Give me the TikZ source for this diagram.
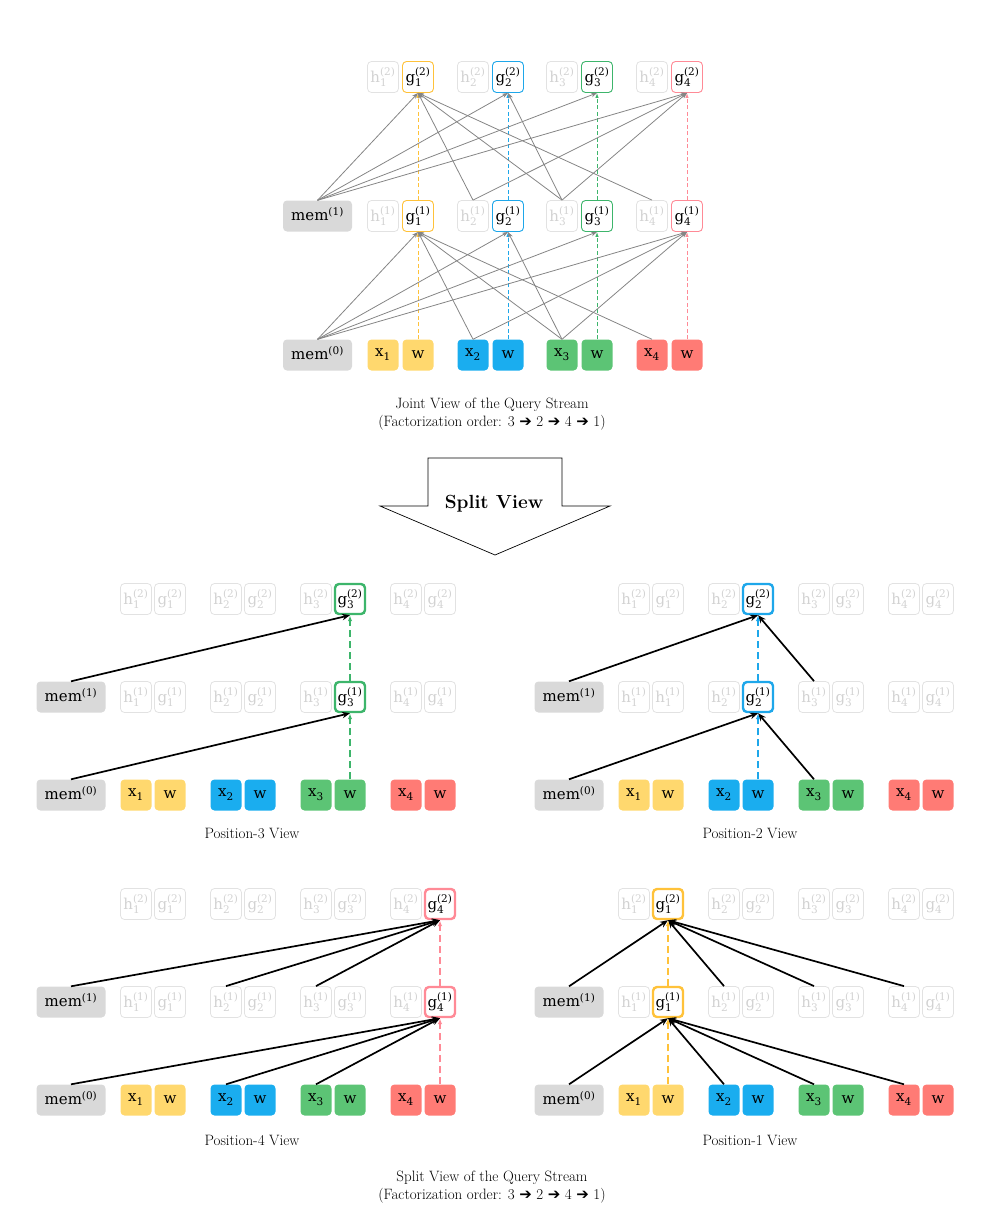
\documentclass[tikz,border=0pt]{standalone}
\usepackage{fix-cm}
\usepackage{fontspec}
\newfontfamily\arrowfont{DejaVu Sans}
\newfontfamily\boxserif{DejaVu Serif}
\usetikzlibrary{arrows.meta}
\definecolor{cyellow}{HTML}{FFD86E}
\definecolor{cblue}{HTML}{1AADEF}
\definecolor{cgreen}{HTML}{5CC475}
\definecolor{cred}{HTML}{FF7B75}
\definecolor{lyellow}{HTML}{FFC23A}
\definecolor{lblue}{HTML}{1EA7EA}
\definecolor{lgreen}{HTML}{3DB56B}
\definecolor{lred}{HTML}{FF8A96}
\definecolor{memgray}{HTML}{D9D9D9}
\definecolor{ghostline}{HTML}{E2E2E2}
\definecolor{ghosttext}{HTML}{D2D2D2}
\definecolor{arrgray}{HTML}{858585}

% box label: letter, subscript, superscript
\newcommand{\lbl}[3]{#1$_{\mbox{\fontsize{10.5}{11}\selectfont #2}}^{\mbox{\fontsize{10.5}{11}\selectfont #3}}$}

% one split view: prefix, x shift, y shift, highlighted position, its colour, letter of first g in layer 1
\newcommand{\splitgrid}[6]{%
  \begin{scope}[shift={(#2,#3)}]
    \node[membox] (#1m0) at (71,795) {\lbl{mem}{}{(0)}};
    \node[membox] (#1m1) at (71,697) {\lbl{mem}{}{(1)}};
    \foreach \i/\xc/\fc in {1/136/cyellow,2/226/cblue,3/316/cgreen,4/406/cred} {
      \node[xbox=\fc] (#1x\i) at (\xc,795) {\lbl{x}{\i}{}};
      \node[xbox=\fc] (#1w\i) at (\xc+34,795) {w};
      \foreach \lay/\yc in {1/697,2/599} {
        \node[ghost] (#1h\i-\lay) at (\xc,\yc) {\lbl{h}{\i}{(\lay)}};
        \ifnum\i=#4
          \node[ghigh=#5] (#1g\i-\lay) at (\xc+34,\yc) {\lbl{g}{\i}{(\lay)}};
        \else
          \node[ghost] (#1g\i-\lay) at (\xc+34,\yc)
            {\lbl{\ifnum\i=1 \ifnum\lay=1 #6\else g\fi\else g\fi}{\i}{(\lay)}};
        \fi
      }
    }
  \end{scope}}

\begin{document}
\begin{tikzpicture}[x=1pt,y=-1pt,
  boxfont/.style={font=\fontsize{15}{17}\boxserif},
  capfont/.style={font=\fontsize{15}{18}\selectfont},
  membox/.style={rectangle,rounded corners=4pt,fill=memgray,minimum width=69pt,
    minimum height=31pt,inner sep=0pt,boxfont},
  xbox/.style={rectangle,rounded corners=4pt,fill=#1,minimum size=31pt,inner sep=0pt,boxfont},
  ghost/.style={rectangle,rounded corners=4pt,draw=ghostline,line width=0.8pt,
    text=ghosttext,minimum size=31pt,inner sep=0pt,boxfont},
  gthin/.style={rectangle,rounded corners=4pt,draw=#1,line width=0.9pt,fill=white,
    minimum size=31pt,inner sep=0pt,boxfont},
  ghigh/.style={rectangle,rounded corners=4pt,draw=#1,line width=2.4pt,fill=white,
    minimum size=30pt,inner sep=0pt,boxfont},
  grayarrow/.style={draw=arrgray,line width=0.8pt,-{Stealth[length=6pt,width=4.5pt]}},
  blackarrow/.style={line width=1.7pt,-{Stealth[length=8pt,width=6.5pt]}},
  jdash/.style={draw=#1,line width=0.9pt,dash pattern=on 4pt off 2.5pt,
    -{Latex[length=5pt,width=3.5pt]}},
  sdash/.style={draw=#1,line width=1.8pt,dash pattern=on 7pt off 4pt,
    -{Latex[length=6pt,width=4.5pt]}},
]
  \useasboundingbox (0,0) rectangle (982,1220);

  % Joint view
  \node[membox] (jm0) at (317.5,355) {\lbl{mem}{}{(0)}};
  \node[membox] (jm1) at (317.5,216) {\lbl{mem}{}{(1)}};
  \foreach \i/\xc/\fc/\lc in {1/383/cyellow/lyellow,2/473/cblue/lblue,3/562/cgreen/lgreen,4/652/cred/lred} {
    \node[xbox=\fc] (jx\i) at (\xc,355) {\lbl{x}{\i}{}};
    \node[xbox=\fc] (jw\i) at (\xc+35,355) {w};
    \foreach \lay/\yc in {1/216,2/77} {
      \node[ghost] (jh\i-\lay) at (\xc,\yc) {\lbl{h}{\i}{(\lay)}};
      \node[gthin=\lc] (jg\i-\lay) at (\xc+35,\yc) {\lbl{g}{\i}{(\lay)}};
    }
    \draw[jdash=\lc] (jw\i.north) -- (jg\i-1.south);
    \draw[jdash=\lc] (jg\i-1.north) -- (jg\i-2.south);
  }
  \foreach \t in {1,...,4} {
    \draw[grayarrow] (jm0.north) -- (jg\t-1.south);
    \draw[grayarrow] (jm1.north) -- (jg\t-2.south);
  }
  \foreach \s/\t in {2/1,3/1,4/1,3/2,2/4,3/4} {
    \draw[grayarrow] (jx\s.north) -- (jg\t-1.south);
    \draw[grayarrow] (jh\s-1.north) -- (jg\t-2.south);
  }
  \node[capfont,align=center] (jcap) at (492,414)
    {Joint View of the Query Stream\\(Factorization order: 3 {\arrowfont ➔} 2 {\arrowfont ➔} 4 {\arrowfont ➔} 1)};

  % Split arrow
  \draw[line width=0.7pt] (428,458) -- (562,458) -- (562,506) -- (610,506) -- (495,555)
    -- (380,506) -- (428,506) -- cycle;
  \node[font=\fontsize{19}{22}\selectfont\bfseries] (splitlabel) at (494,504) {Split View};

  % Position-3 view
  \splitgrid{pthree}{0}{0}{3}{lgreen}{g}
  \draw[blackarrow] (pthreem0.north) -- (pthreeg3-1.south);
  \draw[blackarrow] (pthreem1.north) -- (pthreeg3-2.south);
  \draw[sdash=lgreen] (pthreew3.north) -- (pthreeg3-1.south);
  \draw[sdash=lgreen] (pthreeg3-1.north) -- (pthreeg3-2.south);
  \node[capfont] (cap3) at (252,833) {Position-3 View};

  % Position-2 view
  \splitgrid{ptwo}{498}{0}{2}{lblue}{h}
  \foreach \s in {m0,x3} \draw[blackarrow] (ptwo\s.north) -- (ptwog2-1.south);
  \foreach \s in {m1,h3-1} \draw[blackarrow] (ptwo\s.north) -- (ptwog2-2.south);
  \draw[sdash=lblue] (ptwow2.north) -- (ptwog2-1.south);
  \draw[sdash=lblue] (ptwog2-1.north) -- (ptwog2-2.south);
  \node[capfont] (cap2) at (750,833) {Position-2 View};

  % Position-4 view
  \splitgrid{pfour}{0}{305}{4}{lred}{g}
  \foreach \s in {m0,x2,x3} \draw[blackarrow] (pfour\s.north) -- (pfourg4-1.south);
  \foreach \s in {m1,h2-1,h3-1} \draw[blackarrow] (pfour\s.north) -- (pfourg4-2.south);
  \draw[sdash=lred] (pfourw4.north) -- (pfourg4-1.south);
  \draw[sdash=lred] (pfourg4-1.north) -- (pfourg4-2.south);
  \node[capfont] (cap4) at (252,1140) {Position-4 View};

  % Position-1 view
  \splitgrid{pone}{498}{305}{1}{lyellow}{g}
  \foreach \s in {m0,x2,x3,x4} \draw[blackarrow] (pone\s.north) -- (poneg1-1.south);
  \foreach \s in {m1,h2-1,h3-1,h4-1} \draw[blackarrow] (pone\s.north) -- (poneg1-2.south);
  \draw[sdash=lyellow] (ponew1.north) -- (poneg1-1.south);
  \draw[sdash=lyellow] (poneg1-1.north) -- (poneg1-2.south);
  \node[capfont] (cap1) at (750,1140) {Position-1 View};

  \node[capfont,align=center] (scap) at (492,1187)
    {Split View of the Query Stream\\(Factorization order: 3 {\arrowfont ➔} 2 {\arrowfont ➔} 4 {\arrowfont ➔} 1)};
\end{tikzpicture}
\end{document}
